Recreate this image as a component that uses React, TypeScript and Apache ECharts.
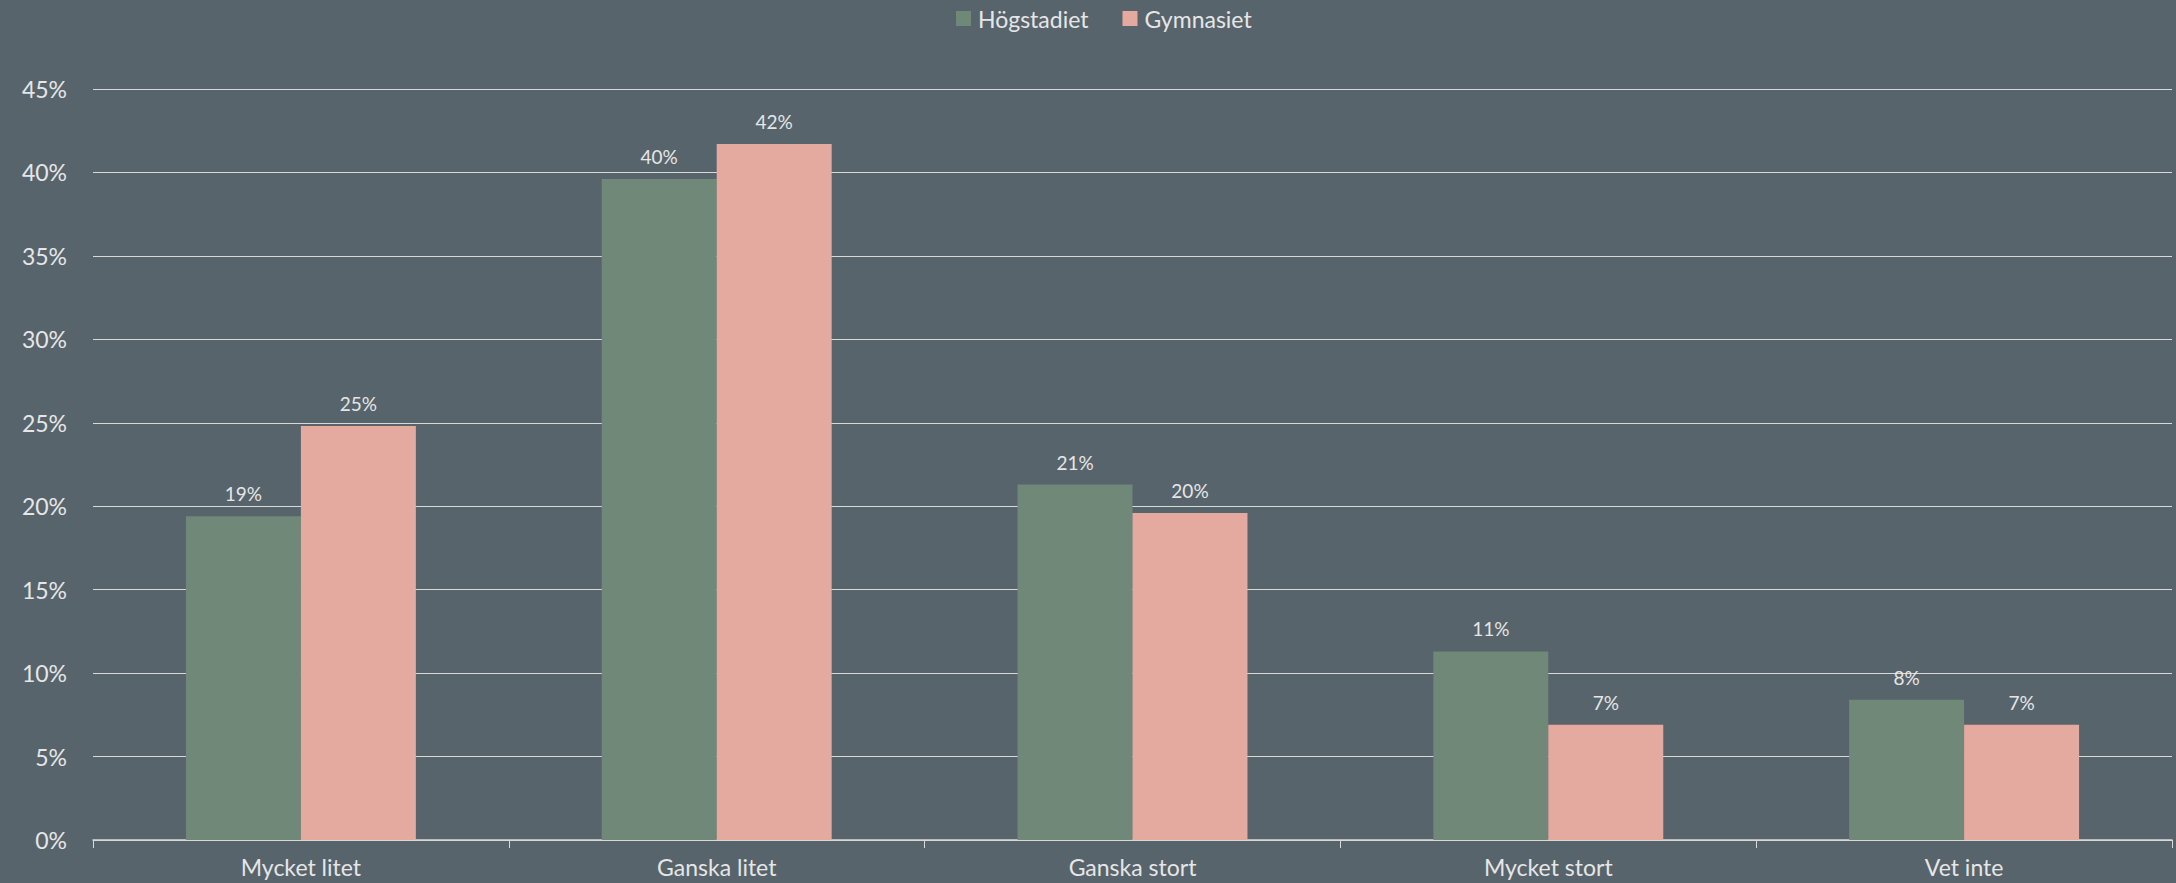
import React, { useEffect, useRef } from "react";
import * as echarts from "echarts";

const categories = ["Mycket litet", "Ganska litet", "Ganska stort", "Mycket stort", "Vet inte"];
const hogstadiet = [19.4, 39.6, 21.3, 11.3, 8.4];
const gymnasiet = [24.8, 41.7, 19.6, 6.9, 6.9];
const seriesNames = ["Högstadiet", "Gymnasiet"];

const FONT = "Lato, 'Open Sans', sans-serif";
const TEXT = "#e6e6e6";

export default function App() {
  const ref = useRef<HTMLDivElement>(null);
  useEffect(() => {
    if (!ref.current) return;
    const chart = echarts.init(ref.current, null, { renderer: "svg" });
    const labelCfg = {
      show: true,
      position: "top",
      distance: 13,
      color: TEXT,
      fontSize: 19,
      fontFamily: FONT,
      formatter: (p: any) => Math.round(p.value) + "%",
    };
    chart.setOption({
      animation: false,
      backgroundColor: "#57646c",
      textStyle: { fontFamily: FONT },
      legend: {
        top: 2,
        left: 951,
        itemWidth: 15,
        itemHeight: 15,
        itemGap: 34,
        icon: "rect",
        textStyle: { color: TEXT, fontSize: 23, fontFamily: FONT, padding: [0, 0, 0, 2] },
        data: seriesNames,
      },
      grid: { left: 93, right: 4, top: 89, bottom: 43, containLabel: false },
      xAxis: {
        type: "category",
        data: categories,
        axisLine: { show: true, lineStyle: { color: "#d9d9d9", width: 1.5 } },
        axisTick: { show: true, length: 8, lineStyle: { color: "#d9d9d9" } },
        axisLabel: {
          color: TEXT,
          fontSize: 23,
          lineHeight: 24,
          fontFamily: FONT,
          margin: 15,
        },
      },
      yAxis: {
        type: "value",
        min: 0,
        max: 45,
        interval: 5,
        axisLine: { show: false },
        axisTick: { show: false },
        axisLabel: {
          color: TEXT,
          fontSize: 23,
          fontFamily: FONT,
          margin: 26,
          formatter: "{value}%",
        },
        splitLine: { lineStyle: { color: "#d9d9d9", width: 1.2 } },
      },
      series: [
        {
          name: seriesNames[0],
          type: "bar",
          data: hogstadiet,
          barGap: "0%",
          barCategoryGap: "44.7%",
          itemStyle: { color: "#6f8877" },
          label: labelCfg,
        },
        {
          name: seriesNames[1],
          type: "bar",
          data: gymnasiet,
          barGap: "0%",
          barCategoryGap: "44.7%",
          itemStyle: { color: "#e4aaa0" },
          label: labelCfg,
        },
      ],
    });
    return () => chart.dispose();
  }, []);
  return (
    <div
      ref={ref}
      style={{ position: "fixed", left: 0, top: 0, width: 2176, height: 883 }}
    />
  );
}
